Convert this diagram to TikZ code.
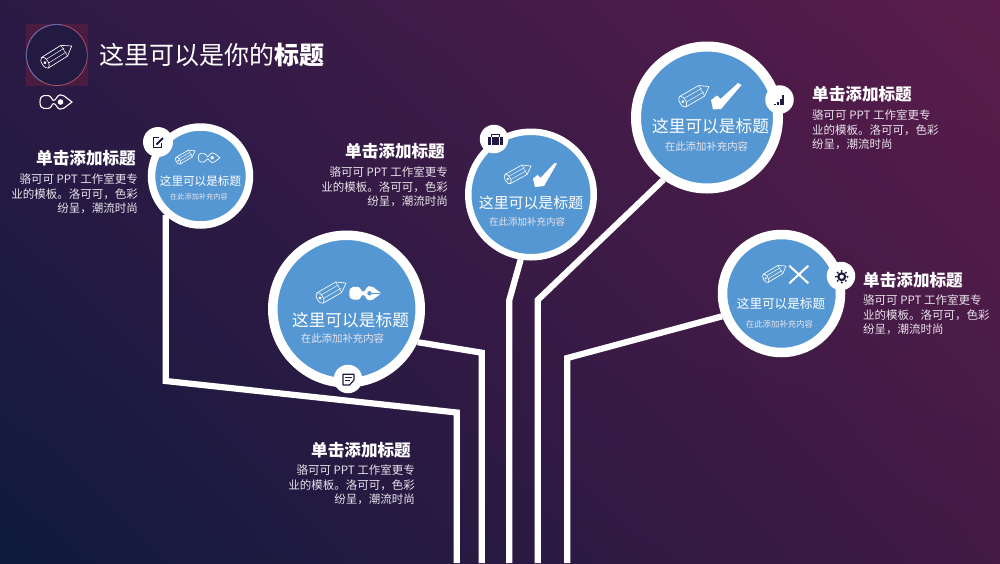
\documentclass[tikz,border=0pt]{standalone}
\usepackage{fontspec}
\setmainfont{Noto Sans CJK SC}
\usepackage{tikz}
\usetikzlibrary{shadings}
\definecolor{ringblue}{HTML}{5597D3}
\definecolor{inkdark}{HTML}{221A40}
\definecolor{softwhite}{HTML}{E9E4EC}
\definecolor{bgTL}{HTML}{2C1A45}
\definecolor{bgTR}{HTML}{5B1C4C}
\definecolor{bgBL}{HTML}{0F1A3F}
\definecolor{bgBR}{HTML}{421A44}
\definecolor{iconback}{HTML}{4A1C40}
\definecolor{arcred}{HTML}{AA506E}
\definecolor{arcblue}{HTML}{606EAF}
\newcommand{\blurb}{骆可可 PPT 工作室更专\\业的模板。洛可可，色彩\\纷呈，潮流时尚}
\newcommand{\maintitle}{这里可以是标题}
\newcommand{\subtitle}{在此添加补充内容}
\tikzset{
  ring/.style 2 args={circle, draw=white, fill=ringblue, inner sep=0pt, line width=#2, minimum size=#1},
  badge/.style={circle, fill=white, inner sep=0pt, minimum size=28.5},
  wire/.style={draw=white, line width=6.2},
  headline/.style={inner sep=0pt, text=white, font=\fontsize{16.6}{20}\selectfont\bfseries},
  blurbR/.style={inner sep=0pt, text=softwhite, align=right, anchor=east, font=\fontsize{11.5}{14.4}\selectfont},
  blurbL/.style={inner sep=0pt, text=softwhite, align=left, anchor=west, font=\fontsize{11.5}{14.4}\selectfont},
  inring/.style={inner sep=0pt, text=white, font=\fontsize{#1}{#1}\selectfont},
  pencil/.pic={
    \draw[line join=round, white, line width=.65] (0,-.2) -- (.72,-.2) -- (1,0) -- (.72,.2) -- (0,.2);
    \draw[white, line width=.65] (0,0) ellipse (.1 and .2);
    \draw[white, line width=.45] (.1,-.07) -- (.76,-.07);
    \draw[white, line width=.45] (.1,.07) -- (.76,.07);
    \draw[white, line width=.45] (.72,-.2) -- (.72,.2);
    \fill[white] (0,0) circle (.05);
  },
  nibshape/.pic={
    \path[pic actions] (1,0) -- (.75,.19) .. controls (.68,.24) and (.58,.24) .. (.53,.15) .. controls (.5,.08) and (.46,.05) .. (.42,.05)
      .. controls (.37,.05) and (.36,.2) .. (.26,.2) -- (.12,.2) .. controls (.04,.2) and (0,.12) .. (0,0)
      .. controls (0,-.12) and (.04,-.2) .. (.12,-.2) -- (.26,-.2) .. controls (.36,-.2) and (.37,-.05) .. (.42,-.05)
      .. controls (.46,-.05) and (.5,-.08) .. (.53,-.15) .. controls (.58,-.24) and (.68,-.24) .. (.75,-.19) -- cycle;
  },
}
\begin{document}
\begin{tikzpicture}[x=1pt, y=-1pt]
\useasboundingbox (0,0) rectangle (1000,563);
\shade[lower left=bgBL, upper left=bgTL, upper right=bgTR, lower right=bgBR] (0,0) rectangle (1000,563);

% title
\fill[iconback] (26,24) rectangle (88,86);
\node[circle, fill=inkdark, draw=arcred, line width=.8, inner sep=0pt, minimum size=61] (titleIcon) at (56.8,55) {};
\draw[arcblue, line width=.8] plot[domain=80:240, samples=30] ({56.8+30.5*cos(\x)}, {55-30.5*sin(\x)});
\pic[scale=31.5, rotate=32] at (45,62.7) {pencil};
\pic[scale=32, draw=white, line width=1.1] at (40,102) {nibshape};
\fill[white] (60.5,102) circle (2.8);
\node[anchor=west, inner sep=0pt, text=white, font=\fontsize{25}{25}\selectfont] (pageTitle) at (99,55) {这里可以是你的\textbf{标题}};

% connectors
\node[ring={98}{7.5}] (circA) at (200.5,176) {};
\node[ring={147.5}{9.5}] (circB) at (346.5,309) {};
\node[ring={125.5}{6.5}] (circC) at (531,194.5) {};
\node[ring={142}{10}] (circD) at (707,117.5) {};
\node[ring={118}{9.5}] (circE) at (781.5,293.5) {};
\coordinate (kneeA) at (165.7,381);
\coordinate (elbowA) at (456.7,412.5);
\coordinate (footA) at (456.7,563);
\coordinate (elbowB) at (481.7,352.7);
\coordinate (footB) at (481.7,563);
\coordinate (elbowC) at (509.3,300);
\coordinate (footC) at (509.3,563);
\coordinate (elbowD) at (537.7,300);
\coordinate (footD) at (537.7,563);
\coordinate (elbowE) at (567.3,358);
\coordinate (footE) at (567.3,563);
\draw[wire] (kneeA |- circA.-132.5) -- (kneeA) -- (elbowA) -- (footA);
\draw[wire] (circB.-25) -- (elbowB) -- (footB);
\draw[wire] (circC.-99) -- (elbowC) -- (footC);
\draw[wire] (circD.-125) -- (elbowD) -- (footD);
\draw[wire] (circE.-159.3) -- (elbowE) -- (footE);

% circle A
\pic[scale=19.7, rotate=30] at (178,160.7) {pencil};
\pic[scale=21.7, draw=white, line width=.7] at (198.3,157.7) {nibshape};
\fill[white] (212.2,157.7) circle (1.9);
\node[inring=11.6] (titleA) at (200.5,181) {\maintitle};
\node[inring=7.2, text=softwhite] (subA) at (199,197) {\subtitle};
\node[badge, minimum size=30] (badgeA) at (158,142) {};
\draw[inkdark, line width=1.4] (161.5,143) -- (161.5,147.5) -- (153.5,147.5) -- (153.5,137.5) -- (158.5,137.5);
\draw[inkdark, line width=2] (156.5,144.5) -- (163,138);

% circle B
\pic[scale=30, rotate=30] at (320,298) {pencil};
\pic[scale=32, fill=white] at (349.3,293.3) {nibshape};
\fill[ringblue] (369.5,293.3) circle (2.2);
\draw[ringblue, line width=.7] (369.5,293.3) -- (381,293.3);
\node[inring=16.7] (titleB) at (350.5,320) {\maintitle};
\node[inring=10.4, text=softwhite] (subB) at (342.5,339) {\subtitle};
\node[badge] (badgeB) at (348,379) {};
\draw[inkdark, line width=1.2, line join=round] (354,380) -- (354,374.3) -- (343,374.3) -- (343,385) -- (349.5,385) -- cycle;
\draw[inkdark, line width=1] (345,377.5) -- (352,377.5) (345,380.5) -- (350,380.5);

% circle C
\pic[scale=26.7, rotate=29] at (507.7,179) {pencil};
\fill[white] (533,178.5) -- (537.5,175) -- (540.5,178) -- (554.5,163) -- (557,163.5) -- (544,186) -- (535,187) -- cycle;
\node[inring=14.9] (titleC) at (531,203) {\maintitle};
\node[inring=9.5, text=softwhite] (subC) at (527,222) {\subtitle};
\node[badge] (badgeC) at (494,139) {};
\fill[inkdark] (488,136.7) rectangle (503,144.5);
\draw[inkdark, line width=1.2] (491.5,136.7) -- (491.5,134.4) -- (499.5,134.4) -- (499.5,136.7);
\draw[white, line width=.6] (491.5,137) -- (491.5,144.5) (499.5,137) -- (499.5,144.5);

% circle D
\pic[scale=30.3, rotate=30] at (682.7,101.7) {pencil};
\fill[white] (711,100) -- (717,95.5) -- (720.5,99) -- (738,83) -- (741.5,85) -- (721,109) -- (713,109.5) -- cycle;
\node[inring=16.7] (titleD) at (710.5,126) {\maintitle};
\node[inring=10.4, text=softwhite] (subD) at (706.5,147) {\subtitle};
\node[badge] (badgeD) at (779.5,99.5) {};
\foreach \x/\y in {774/103.5, 776.8/101.5, 779.6/98.5, 782.4/95}
  \fill[inkdark] (\x,\y) rectangle ++(2,{105-\y});

% circle E
\pic[scale=23.7, rotate=31] at (765.7,278.3) {pencil};
\draw[white, line width=2] (789.3,265.7) -- (808.3,283.3) (808.3,265.7) -- (789.3,283.3);
\node[inring=12.6] (titleE) at (781,304) {\maintitle};
\node[inring=8.4, text=softwhite] (subE) at (779.5,324) {\subtitle};
\node[badge] (badgeE) at (841,276) {};
\draw[inkdark, line width=2.2] (841.7,276.7) circle (3.4);
\foreach \a in {0,45,...,315}
  \fill[inkdark] ({841.7+5.8*cos(\a)},{276.7+5.8*sin(\a)}) circle (1.1);

% text blocks
\node[headline, anchor=east] (headA) at (136,158) {单击添加标题};
\node[blurbR] (textA) at (138,194) {\blurb};
\node[headline, anchor=east] (headB) at (445,151) {单击添加标题};
\node[blurbR] (textB) at (448,187) {\blurb};
\node[headline, anchor=east] (headC) at (411,450) {单击添加标题};
\node[blurbR] (textC) at (415,485) {\blurb};
\node[headline, anchor=west] (headD) at (812,94) {单击添加标题};
\node[blurbL] (textD) at (812,130) {\blurb};
\node[headline, anchor=west] (headE) at (863,280) {单击添加标题};
\node[blurbL] (textE) at (863,315) {\blurb};
\end{tikzpicture}
\end{document}
